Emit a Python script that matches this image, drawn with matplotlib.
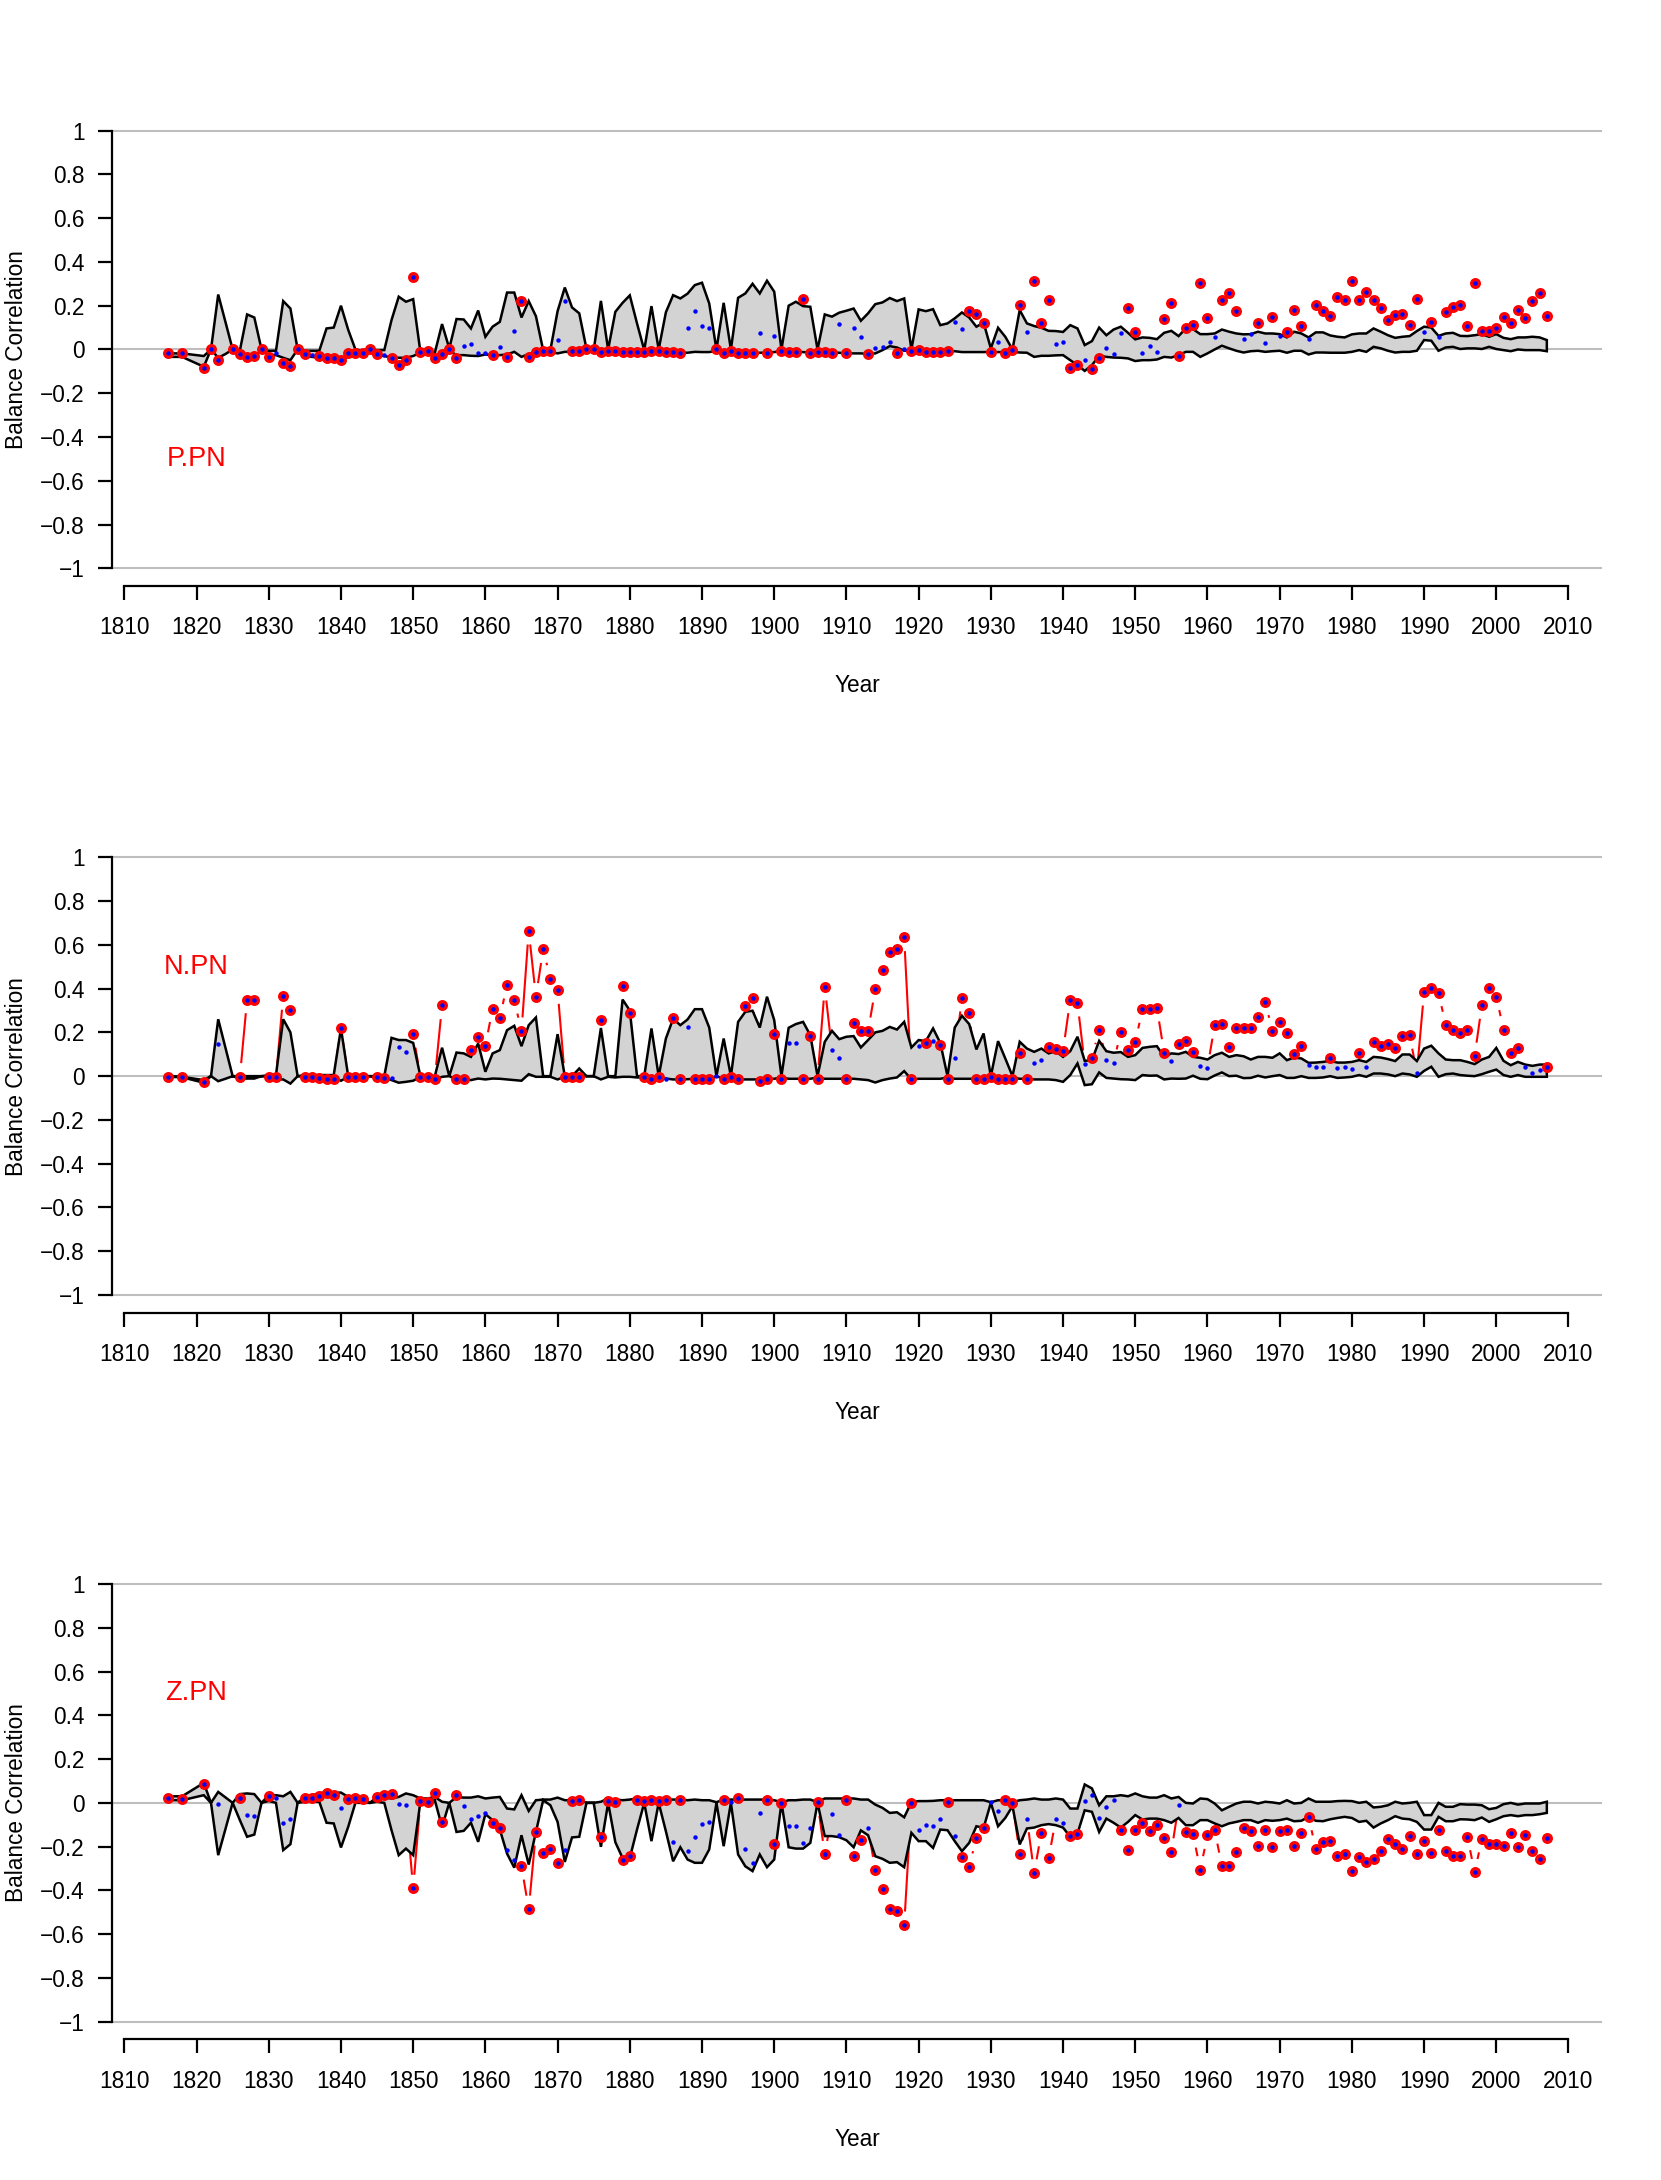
import numpy as np
import matplotlib
matplotlib.use("Agg")
import matplotlib.pyplot as plt
from matplotlib.collections import LineCollection

plt.rcParams["font.family"] = ["Liberation Sans", "DejaVu Sans"]

nan = np.nan
YEARS = np.arange(1816, 2008)

# ── P.PN ────────────────────────────────────────────────────────────────
P_UP = [
    -0.018, nan, -0.018, nan, nan, -0.03, 0, 0.251, 0.126, 0,
    -0.005, 0.16, 0.146, 0, -0.006, -0.006, 0.221, 0.187, 0, -0.006,
    -0.006, -0.006, 0.096, 0.1, 0.2, 0.09, 0, -0.006, 0, -0.003,
    -0.003, 0.134, 0.241, 0.218, 0.23, -0.011, -0.003, -0.015, 0.116, 0.005,
    0.139, 0.137, 0.096, 0.178, 0.058, 0.104, 0.126, 0.26, 0.26, 0.146,
    0.221, 0.152, -0.003, -0.003, 0.175, 0.283, 0.192, 0.165, 0.003, -0.003,
    0.222, 0, 0.172, 0.213, 0.247, 0.119, -0.003, 0.198, 0, 0.17,
    0.248, 0.233, 0.255, 0.294, 0.305, 0.21, 0, 0.213, 0, 0.236,
    0.256, 0.3, 0.256, 0.314, 0.264, 0, 0.2, 0.218, 0.198, 0.195,
    0, 0.16, 0.15, 0.168, 0.177, 0.187, 0.131, 0.165, 0.207, 0.215,
    0.235, 0.221, 0.233, 0, 0.183, 0.175, 0.184, 0.111, 0.119, 0.142,
    0.169, 0.146, 0.104, 0.122, 0.005, 0.099, 0.058, 0, 0.18, 0.119,
    0.107, 0.099, 0.085, 0.084, 0.08, 0.111, 0.096, 0.02, 0.038, 0.1,
    0.065, 0.091, 0.104, 0.076, 0.046, 0.055, 0.053, 0.047, 0.076, 0.085,
    0.061, 0.096, 0.093, 0.07, 0.07, 0.073, 0.091, 0.081, 0.073, 0.069,
    0.07, 0.081, 0.073, 0.073, 0.07, 0.055, 0.081, 0.073, 0.055, 0.078,
    0.078, 0.064, 0.058, 0.055, 0.069, 0.073, 0.073, 0.096, 0.081, 0.065,
    0.053, 0.058, 0.061, 0.084, 0.104, 0.1, 0.062, 0.073, 0.076, 0.062,
    0.061, 0.065, 0.07, 0.058, 0.07, 0.053, 0.047, 0.055, 0.055, 0.058,
    0.055, 0.043,
]
P_LO = [
    -0.034, nan, -0.034, nan, nan, -0.079, 0, -0.038, -0.021, 0,
    -0.026, -0.038, -0.038, 0, -0.026, -0.026, -0.038, -0.049, 0, -0.029,
    -0.034, -0.038, -0.044, -0.044, -0.044, -0.034, -0.026, -0.026, -0.006, -0.026,
    -0.03, -0.037, -0.038, -0.038, -0.03, -0.015, -0.015, -0.034, -0.026, -0.006,
    -0.026, -0.026, -0.029, -0.03, -0.023, -0.026, -0.026, -0.023, -0.011, -0.034,
    -0.021, -0.015, -0.008, -0.011, -0.018, -0.011, -0.011, -0.011, -0.003, -0.011,
    -0.012, -0.011, -0.014, -0.012, -0.012, -0.012, -0.008, -0.012, -0.012, -0.014,
    -0.014, -0.015, -0.015, -0.011, -0.012, -0.012, -0.006, -0.012, -0.008, -0.018,
    -0.015, -0.018, -0.015, -0.015, -0.012, -0.008, -0.012, -0.012, -0.012, -0.015,
    -0.011, -0.012, -0.015, -0.015, -0.018, -0.018, -0.018, -0.021, -0.018, -0.003,
    0.015, 0.009, -0.006, -0.006, -0.008, -0.012, -0.012, -0.012, -0.008, -0.008,
    -0.012, -0.012, -0.012, -0.012, -0.011, -0.012, -0.012, -0.011, -0.014, -0.015,
    -0.034, -0.029, -0.029, -0.027, -0.026, -0.049, -0.072, -0.098, -0.072, -0.029,
    -0.034, -0.037, -0.038, -0.041, -0.053, -0.049, -0.049, -0.046, -0.034, -0.037,
    -0.026, -0.011, -0.011, -0.034, -0.018, 0, 0.017, 0.005, -0.006, -0.014,
    -0.008, -0.006, -0.011, -0.008, -0.006, -0.015, -0.006, -0.006, -0.023, -0.014,
    -0.014, -0.015, -0.015, -0.015, -0.011, -0.003, -0.011, 0.012, 0.005, -0.006,
    -0.014, -0.011, -0.011, -0.006, 0.043, 0.04, -0.006, 0.009, 0.012, 0.002,
    0.005, 0.005, 0.002, 0.012, 0.002, -0.003, -0.008, 0, -0.003, -0.003,
    -0.003, -0.008,
]
P_VAL = [
    -0.018, nan, -0.018, nan, nan, -0.087, 0, -0.046, nan, 0,
    -0.021, -0.034, -0.03, 0, -0.034, -0.018, -0.061, -0.075, 0, -0.021,
    -0.026, -0.03, -0.041, -0.038, -0.049, -0.015, -0.018, -0.015, 0, -0.023,
    -0.026, -0.037, -0.072, -0.046, 0.332, -0.011, -0.006, -0.041, -0.021, 0,
    -0.037, 0.015, 0.027, -0.015, -0.014, -0.026, 0.009, -0.034, 0.085, 0.222,
    -0.034, -0.011, -0.008, -0.008, 0.043, 0.222, -0.008, -0.008, 0, 0,
    -0.011, -0.006, -0.006, -0.011, -0.011, -0.011, -0.011, -0.006, -0.006, -0.011,
    -0.011, -0.018, 0.099, 0.177, 0.107, 0.1, 0, -0.015, -0.006, -0.018,
    -0.015, -0.018, 0.076, -0.015, 0.061, -0.006, -0.012, -0.012, 0.23, -0.015,
    -0.011, -0.011, -0.015, 0.116, -0.018, 0.099, 0.058, -0.021, 0.005, 0.009,
    0.032, -0.015, 0.002, -0.006, -0.003, -0.012, -0.012, -0.012, -0.006, 0.125,
    0.094, 0.175, 0.161, 0.119, -0.011, 0.035, -0.015, -0.003, 0.203, 0.078,
    0.312, 0.122, 0.225, 0.027, 0.035, -0.084, -0.072, -0.046, -0.091, -0.038,
    0.005, -0.023, 0.073, 0.19, 0.081, -0.015, 0.015, -0.011, 0.139, 0.213,
    -0.029, 0.099, 0.114, 0.302, 0.142, 0.055, 0.228, 0.26, 0.175, 0.05,
    0.069, 0.119, 0.03, 0.146, 0.062, 0.081, 0.178, 0.107, 0.05, 0.203,
    0.174, 0.155, 0.238, 0.228, 0.312, 0.228, 0.264, 0.228, 0.19, 0.134,
    0.157, 0.164, 0.111, 0.232, 0.079, 0.126, 0.055, 0.169, 0.192, 0.204,
    0.108, 0.305, 0.085, 0.085, 0.096, 0.149, 0.119, 0.18, 0.142, 0.221,
    0.256, 0.154,
]
P_SIG = [
    1, 0, 1, 0, 0, 1, 1, 1, 0, 1,
    1, 1, 1, 1, 1, 0, 1, 1, 1, 1,
    0, 1, 1, 1, 1, 1, 1, 1, 1, 1,
    0, 1, 1, 1, 1, 1, 1, 1, 1, 1,
    1, 0, 0, 0, 0, 1, 0, 1, 0, 1,
    1, 1, 1, 1, 0, 0, 1, 1, 1, 1,
    1, 1, 1, 1, 1, 1, 1, 1, 1, 1,
    1, 1, 0, 0, 0, 0, 1, 1, 1, 1,
    1, 1, 0, 1, 0, 1, 1, 1, 1, 1,
    1, 1, 1, 0, 1, 0, 0, 1, 0, 0,
    0, 1, 0, 1, 1, 1, 1, 1, 1, 0,
    0, 1, 1, 1, 1, 0, 1, 1, 1, 0,
    1, 1, 1, 0, 0, 1, 1, 0, 1, 1,
    0, 0, 0, 1, 1, 0, 0, 0, 1, 1,
    1, 1, 1, 1, 1, 0, 1, 1, 1, 0,
    0, 1, 0, 1, 0, 1, 1, 1, 0, 1,
    1, 1, 1, 1, 1, 1, 1, 1, 1, 1,
    1, 1, 1, 1, 0, 1, 0, 1, 1, 1,
    1, 1, 1, 1, 1, 1, 1, 1, 1, 1,
    1, 1,
]

# ── N.PN ────────────────────────────────────────────────────────────────
N_UP = [
    0, nan, -0.003, nan, nan, -0.018, 0, 0.26, 0.13, 0,
    0, 0, 0, 0, 0.005, 0.005, 0.26, 0.2, 0, 0.005,
    0.005, 0.005, 0.005, 0.005, 0.218, 0, 0, 0, 0, 0,
    0, 0.175, 0.165, 0.165, 0.152, 0, 0, 0, 0.13, 0,
    0.108, 0.104, 0.088, 0.149, 0.02, 0.104, 0.119, 0.21, 0.23, 0.137,
    0.233, 0.268, 0, 0, 0.192, 0, 0, 0.035, 0, 0,
    0.22, 0, 0, 0.35, 0.3, 0, 0, 0.218, 0, 0.172,
    0.262, 0.233, 0.259, 0.306, 0.306, 0.222, 0, 0.172, 0, 0.248,
    0.294, 0.299, 0.222, 0.363, 0.256, 0, 0.221, 0.238, 0.248, 0.187,
    0, 0.157, 0.207, 0.169, 0.18, 0.183, 0.131, 0.165, 0.2, 0.207,
    0.225, 0.213, 0.248, 0.131, 0.165, 0.16, 0.218, 0.152, 0, 0.222,
    0.276, 0.238, 0.122, 0.195, 0, 0.16, 0.081, 0, 0.157, 0.126,
    0.111, 0.126, 0.104, 0.114, 0.088, 0.114, 0.18, 0.07, 0.073, 0.161,
    0.114, 0.107, 0.11, 0.088, 0.096, 0.129, 0.134, 0.137, 0.088, 0.104,
    0.101, 0.111, 0.088, 0.084, 0.076, 0.096, 0.107, 0.088, 0.096, 0.091,
    0.076, 0.088, 0.088, 0.084, 0.104, 0.073, 0.085, 0.081, 0.061, 0.062,
    0.065, 0.07, 0.062, 0.062, 0.065, 0.073, 0.065, 0.088, 0.085, 0.078,
    0.069, 0.099, 0.099, 0.069, 0.126, 0.139, 0.104, 0.076, 0.073, 0.073,
    0.065, 0.055, 0.076, 0.088, 0.129, 0.07, 0.05, 0.065, 0.053, 0.047,
    0.053, 0.053,
]
N_LO = [
    -0.003, nan, -0.005, nan, nan, -0.03, 0, -0.023, -0.012, 0,
    -0.011, -0.011, -0.011, 0, -0.003, -0.015, -0.015, -0.034, 0, -0.003,
    -0.006, -0.006, -0.008, -0.008, -0.021, -0.003, -0.003, -0.003, 0, -0.003,
    -0.008, -0.018, -0.03, -0.026, -0.021, -0.003, -0.003, -0.018, -0.003, 0,
    -0.015, -0.015, -0.018, -0.011, -0.015, -0.011, -0.012, -0.015, -0.018, -0.021,
    0.009, -0.003, -0.003, -0.003, -0.015, -0.003, -0.003, -0.003, 0, 0,
    -0.015, -0.003, -0.006, -0.003, -0.003, -0.006, -0.006, -0.015, -0.006, -0.011,
    -0.015, -0.015, -0.014, -0.012, -0.012, -0.012, 0, -0.012, -0.006, -0.015,
    -0.015, -0.015, -0.015, -0.012, -0.012, -0.006, -0.012, -0.012, -0.012, -0.012,
    -0.006, -0.012, -0.012, -0.012, -0.012, -0.012, -0.015, -0.018, -0.029, -0.018,
    -0.011, -0.006, 0.023, -0.015, -0.012, -0.012, -0.012, -0.012, -0.006, -0.012,
    -0.012, -0.012, -0.012, -0.012, -0.006, -0.012, -0.012, -0.006, -0.012, -0.012,
    -0.015, -0.015, -0.015, -0.018, -0.026, 0.005, 0.058, -0.041, -0.037, 0.017,
    -0.008, -0.011, -0.014, -0.015, -0.018, 0.005, 0.002, 0.003, -0.015, -0.011,
    -0.012, -0.011, 0.002, -0.012, -0.014, 0.003, 0.017, 0, 0.002, -0.009,
    -0.008, 0.002, -0.006, 0, 0.005, -0.008, -0.008, 0, -0.008, -0.008,
    -0.006, 0, -0.008, -0.006, -0.003, 0.005, -0.003, 0.012, 0.012, 0.008,
    0, 0.012, 0.008, -0.003, 0.024, 0.043, -0.003, 0.009, 0.012, 0.005,
    0.002, 0, 0.009, 0.02, 0.03, 0.005, -0.003, 0.005, -0.003, -0.003,
    -0.003, -0.003,
]
N_VAL = [
    -0.003, nan, -0.003, nan, nan, -0.025, nan, 0.146, nan, nan,
    -0.003, 0.35, 0.35, nan, -0.006, -0.006, 0.366, 0.302, nan, -0.003,
    -0.006, -0.008, -0.011, -0.011, 0.218, -0.003, -0.003, -0.003, nan, -0.003,
    -0.008, -0.008, 0.134, 0.111, 0.192, -0.003, -0.003, -0.011, 0.323, nan,
    -0.012, -0.012, 0.119, 0.177, 0.139, 0.309, 0.268, 0.416, 0.347, 0.206,
    0.664, 0.363, 0.579, 0.446, 0.393, -0.003, -0.003, -0.006, nan, nan,
    0.256, nan, nan, 0.41, 0.29, nan, -0.006, -0.011, -0.006, -0.015,
    0.267, -0.011, 0.225, -0.011, -0.011, -0.015, 0, -0.011, -0.006, -0.015,
    0.32, 0.355, -0.021, -0.011, 0.192, -0.011, 0.152, 0.152, -0.015, 0.183,
    -0.011, 0.408, 0.119, 0.081, -0.011, 0.241, 0.206, 0.206, 0.398, 0.487,
    0.568, 0.58, 0.634, -0.011, 0.139, 0.152, 0.16, 0.142, -0.011, 0.084,
    0.358, 0.289, -0.011, -0.011, -0.003, -0.011, -0.011, -0.011, 0.104, -0.011,
    0.061, 0.073, 0.131, 0.122, 0.116, 0.35, 0.335, 0.055, 0.085, 0.213,
    0.076, 0.061, 0.203, 0.119, 0.157, 0.305, 0.309, 0.312, 0.107, 0.069,
    0.146, 0.161, 0.111, 0.047, 0.038, 0.233, 0.238, 0.131, 0.222, 0.222,
    0.222, 0.271, 0.34, 0.206, 0.248, 0.195, 0.099, 0.139, 0.05, 0.043,
    0.043, 0.084, 0.038, 0.043, 0.032, 0.108, 0.043, 0.154, 0.139, 0.149,
    0.129, 0.183, 0.187, 0.015, 0.385, 0.405, 0.381, 0.233, 0.213, 0.198,
    0.21, 0.091, 0.324, 0.405, 0.363, 0.213, 0.107, 0.129, 0.043, 0.015,
    0.03, 0.043,
]
N_SIG = [
    1, 0, 1, 0, 0, 1, 0, 0, 0, 0,
    1, 1, 1, 0, 1, 1, 1, 1, 0, 1,
    1, 1, 1, 1, 1, 1, 1, 1, 0, 1,
    1, 0, 0, 0, 1, 1, 1, 1, 1, 0,
    1, 1, 1, 1, 1, 1, 1, 1, 1, 1,
    1, 1, 1, 1, 1, 1, 1, 1, 0, 0,
    1, 0, 0, 1, 1, 0, 1, 1, 1, 0,
    1, 1, 0, 1, 1, 1, 0, 1, 1, 1,
    1, 1, 1, 1, 1, 1, 0, 0, 1, 1,
    1, 1, 0, 0, 1, 1, 1, 1, 1, 1,
    1, 1, 1, 1, 0, 1, 0, 1, 1, 0,
    1, 1, 1, 1, 1, 1, 1, 1, 1, 1,
    0, 0, 1, 1, 1, 1, 1, 0, 1, 1,
    0, 0, 1, 1, 1, 1, 1, 1, 1, 0,
    1, 1, 1, 0, 0, 1, 1, 1, 1, 1,
    1, 1, 1, 1, 1, 1, 1, 1, 0, 0,
    0, 1, 0, 0, 0, 1, 0, 1, 1, 1,
    1, 1, 1, 0, 1, 1, 1, 1, 1, 1,
    1, 1, 1, 1, 1, 1, 1, 1, 0, 0,
    0, 1,
]

# ── Z.PN ────────────────────────────────────────────────────────────────
Z_UP = [
    0.03, nan, 0.03, nan, nan, 0.091, 0, 0.05, 0.025, 0,
    0.04, 0.043, 0.04, 0, 0.035, 0.035, 0.03, 0.05, 0, 0.027,
    0.035, 0.043, 0.05, 0.046, 0.047, 0.027, 0.027, 0.02, 0, 0.027,
    0.024, 0.02, 0.027, 0.043, 0.035, 0.02, 0.02, 0.027, 0.005, 0,
    0.027, 0.024, 0.024, 0.03, 0.02, 0.024, 0.027, -0.026, -0.03, 0.035,
    -0.037, 0.012, 0.015, 0.015, 0.024, 0.012, 0.012, 0.015, 0, 0,
    0.005, 0.02, 0.015, 0.012, 0.015, 0.02, 0.005, 0.015, 0.005, 0.015,
    0.015, 0.015, 0.012, 0.015, 0.012, 0.012, 0.003, 0.015, 0.015, 0.015,
    0.015, 0.015, 0.015, 0.015, 0.012, 0.003, 0.012, 0.012, 0.015, 0.015,
    0.003, 0.02, 0.02, 0.02, 0.02, 0.02, 0.015, 0.015, -0.008, -0.023,
    -0.046, -0.043, -0.066, 0.003, 0.008, 0.008, 0.009, 0.012, 0.012, 0.012,
    0.012, 0.012, 0.012, 0.012, 0.003, 0.012, 0.012, 0.003, 0.012, 0.015,
    0.02, 0.015, 0.015, 0.02, 0.015, -0.026, -0.026, 0.084, 0.066, -0.011,
    0.03, 0.03, 0.035, 0.03, 0.043, 0.03, 0.024, 0.024, 0.035, 0.02,
    0.027, 0, -0.003, 0.02, 0.017, -0.003, -0.034, -0.018, -0.003, 0.005,
    0.005, -0.003, 0.005, 0.002, -0.003, 0.012, -0.003, 0, 0.02, 0.005,
    0.005, 0.005, 0.008, 0.009, 0.008, 0, 0.005, -0.021, -0.018, -0.011,
    0.005, -0.003, 0, 0.005, -0.056, -0.056, 0, -0.018, -0.018, -0.006,
    -0.008, -0.008, -0.011, -0.029, -0.023, -0.006, 0, -0.008, -0.003, -0.003,
    -0.003, 0.005,
]
Z_LO = [
    0.012, nan, 0.012, nan, nan, 0.035, 0, -0.239, -0.12, 0,
    -0.079, -0.155, -0.145, 0, 0.009, 0, -0.216, -0.189, 0, 0.005,
    0.005, 0.005, -0.091, -0.094, -0.204, -0.11, 0, 0, 0, 0.005,
    0, -0.125, -0.239, -0.209, -0.239, 0.005, 0.005, 0.012, -0.11, 0,
    -0.133, -0.128, -0.091, -0.178, -0.052, -0.079, -0.122, -0.232, -0.296, -0.148,
    -0.282, -0.133, 0.012, -0.011, -0.087, -0.27, -0.158, -0.155, 0, 0,
    -0.201, 0, -0.18, -0.252, -0.252, -0.122, 0, -0.175, 0, -0.13,
    -0.267, -0.203, -0.259, -0.274, -0.274, -0.213, 0, -0.198, 0, -0.236,
    -0.29, -0.312, -0.236, -0.294, -0.259, 0, -0.203, -0.209, -0.209, -0.183,
    0, -0.152, -0.152, -0.157, -0.171, -0.203, -0.126, -0.148, -0.244, -0.256,
    -0.274, -0.271, -0.294, -0.137, -0.175, -0.175, -0.206, -0.122, -0.125, -0.175,
    -0.221, -0.183, -0.107, -0.114, 0, -0.107, -0.069, -0.015, -0.19, -0.117,
    -0.113, -0.102, -0.097, -0.102, -0.113, -0.155, -0.14, -0.034, -0.041, -0.133,
    -0.072, -0.091, -0.113, -0.087, -0.056, -0.076, -0.072, -0.072, -0.079, -0.091,
    -0.069, -0.102, -0.102, -0.079, -0.079, -0.094, -0.107, -0.094, -0.087, -0.079,
    -0.079, -0.091, -0.079, -0.082, -0.079, -0.072, -0.084, -0.082, -0.064, -0.082,
    -0.084, -0.075, -0.069, -0.064, -0.069, -0.087, -0.082, -0.113, -0.094, -0.079,
    -0.061, -0.072, -0.075, -0.087, -0.122, -0.122, -0.064, -0.084, -0.084, -0.075,
    -0.076, -0.079, -0.067, -0.087, -0.075, -0.061, -0.056, -0.061, -0.056, -0.056,
    -0.052, -0.046,
]
Z_VAL = [
    0.02, nan, 0.017, nan, nan, 0.088, nan, -0.003, nan, nan,
    0.023, -0.056, -0.059, nan, 0.032, 0.02, -0.094, -0.075, nan, 0.023,
    0.024, 0.032, 0.046, 0.038, -0.023, 0.017, 0.02, 0.017, nan, 0.027,
    0.035, 0.04, -0.006, -0.011, -0.391, 0.008, 0.005, 0.046, -0.087, nan,
    0.038, -0.014, -0.073, -0.059, -0.046, -0.091, -0.113, -0.216, -0.262, -0.289,
    -0.486, -0.133, -0.228, -0.213, -0.277, -0.216, 0.008, 0.012, nan, nan,
    -0.158, 0.008, 0.003, -0.262, -0.244, 0.012, 0.009, 0.012, 0.008, 0.012,
    -0.18, 0.011, -0.218, -0.157, -0.096, -0.088, nan, 0.011, 0.003, 0.023,
    -0.213, -0.274, -0.046, 0.011, -0.19, 0.0, -0.107, -0.107, -0.183, -0.114,
    0.003, -0.236, -0.05, -0.148, 0.015, -0.244, -0.168, -0.114, -0.309, -0.393,
    -0.484, -0.492, -0.559, 0.0, -0.125, -0.102, -0.107, -0.073, 0.005, -0.152,
    -0.248, -0.292, -0.16, -0.117, 0.003, -0.038, 0.012, 0.0, -0.232, -0.072,
    -0.32, -0.137, -0.254, -0.075, -0.09, -0.152, -0.143, 0.008, 0.035, -0.069,
    -0.018, 0.012, -0.125, -0.216, -0.125, -0.094, -0.128, -0.102, -0.16, -0.224,
    -0.011, -0.134, -0.143, -0.305, -0.149, -0.125, -0.289, -0.288, -0.224, -0.114,
    -0.129, -0.196, -0.125, -0.201, -0.128, -0.125, -0.196, -0.14, -0.064, -0.21,
    -0.181, -0.174, -0.242, -0.232, -0.312, -0.247, -0.27, -0.257, -0.221, -0.166,
    -0.186, -0.209, -0.151, -0.232, -0.175, -0.227, -0.122, -0.221, -0.242, -0.244,
    -0.155, -0.318, -0.165, -0.19, -0.189, -0.195, -0.136, -0.204, -0.149, -0.219,
    -0.256, -0.16,
]
Z_SIG = [
    1, 0, 1, 0, 0, 1, 0, 0, 0, 0,
    1, 0, 0, 0, 1, 0, 0, 0, 0, 1,
    1, 1, 1, 1, 0, 1, 1, 1, 0, 1,
    1, 1, 0, 0, 1, 1, 1, 1, 1, 0,
    1, 0, 0, 0, 0, 1, 1, 0, 0, 1,
    1, 1, 1, 1, 1, 0, 1, 1, 0, 0,
    1, 1, 1, 1, 1, 1, 1, 1, 1, 1,
    0, 1, 0, 0, 0, 0, 0, 1, 0, 1,
    0, 0, 0, 1, 1, 1, 0, 0, 0, 0,
    1, 1, 0, 0, 1, 1, 1, 0, 1, 1,
    1, 1, 1, 1, 0, 0, 0, 0, 1, 0,
    1, 1, 1, 1, 0, 0, 1, 1, 1, 0,
    1, 1, 1, 0, 0, 1, 1, 0, 0, 0,
    0, 0, 1, 1, 1, 1, 1, 1, 1, 1,
    0, 1, 1, 1, 1, 1, 1, 1, 1, 1,
    1, 1, 1, 1, 1, 1, 1, 1, 1, 1,
    1, 1, 1, 1, 1, 1, 1, 1, 1, 1,
    1, 1, 1, 1, 1, 1, 1, 1, 1, 1,
    1, 1, 1, 1, 1, 1, 1, 1, 1, 1,
    1, 1,
]

PANELS = [
    # name, label y, upper, lower, value, significant, connect values
    ("P.PN", -0.5, P_UP, P_LO, P_VAL, P_SIG, False),
    ("N.PN", 0.5, N_UP, N_LO, N_VAL, N_SIG, True),
    ("Z.PN", 0.5, Z_UP, Z_LO, Z_VAL, Z_SIG, True),
]

Y_TICKS = [1, 0.8, 0.6, 0.4, 0.2, 0, -0.2, -0.4, -0.6, -0.8, -1]
Y_TICK_LABELS = ["1", "0.8", "0.6", "0.4", "0.2", "0",
                 "\u22120.2", "\u22120.4", "\u22120.6", "\u22120.8", "\u22121"]
X_TICKS = list(range(1810, 2011, 10))

# figure geometry in pixels (R-like layout, 3 stacked panels)
W, H = 1661, 2180
LEFT, RIGHT = 112.5, 1602.0
TOP0, PANEL_H, STEP = 113.1, 472.7, 726.7
GAP_PX = 13.7          # gap left around points by R's type="b"
FS = 16.3


def gapped_segments(ax, xs, ys, gap):
    """Segments of an R type='b' line: shortened by `gap` pixels at each end."""
    pts = ax.transData.transform(np.column_stack([xs, ys]))
    inv = ax.transData.inverted()
    segs = []
    for i in range(len(xs) - 1):
        if np.isnan(ys[i]) or np.isnan(ys[i + 1]):
            continue
        p0, p1 = pts[i], pts[i + 1]
        d = np.hypot(*(p1 - p0))
        if d == 0:
            continue
        f = gap / d
        if f < 0.5:
            a = p0 + f * (p1 - p0)
            b = p1 - f * (p1 - p0)
            segs.append(inv.transform(np.array([a, b])))
    return segs


fig = plt.figure(figsize=(W / 100, H / 100), dpi=100)

for i, (name, label_y, up, lo, val, sig, connect) in enumerate(PANELS):
    bottom_px = TOP0 + PANEL_H + STEP * i
    ax = fig.add_axes([LEFT / W, 1 - bottom_px / H, (RIGHT - LEFT) / W, PANEL_H / H])
    ax.set_xlim(1808.36, 2014.64)
    ax.set_ylim(-1.08, 1.08)

    up = np.array(up, dtype=float)
    lo = np.array(lo, dtype=float)
    val = np.array(val, dtype=float)
    sig = np.array(sig, dtype=bool)

    # reference lines
    for h in (-1, 0, 1):
        ax.axhline(h, color="#bebebe", lw=1.5, zorder=1)

    # observed series, R type="b" (drawn first, the band hides it where it overlaps)
    if connect:
        segs = gapped_segments(ax, YEARS.astype(float), val, GAP_PX)
        ax.add_collection(LineCollection(segs, colors="red", linewidths=1.5, zorder=1.5))

    # null band
    ok = ~np.isnan(up)
    bx = YEARS[ok]
    ax.fill(np.r_[bx, bx[::-1]], np.r_[up[ok], lo[ok][::-1]],
            facecolor="#d3d3d3", edgecolor="black", lw=1.8, zorder=2)

    red = sig & ~np.isnan(val)
    ax.plot(YEARS[red], val[red], "o", color="red", ms=7.9, mew=0, zorder=4)
    ax.plot(YEARS, val, "o", color="blue", ms=3.2, mew=0, zorder=5)

    ax.text(1820, label_y, name, color="red", fontsize=19.5,
            ha="center", va="center")

    # axes decoration
    for side in ("top", "right"):
        ax.spines[side].set_visible(False)
    ax.spines["left"].set_bounds(-1, 1)
    ax.spines["bottom"].set_bounds(1810, 2010)
    for side in ("left", "bottom"):
        ax.spines[side].set_linewidth(1.6)
    ax.set_yticks(Y_TICKS)
    ax.set_yticklabels(Y_TICK_LABELS)
    ax.set_xticks(X_TICKS)
    ax.set_xticklabels([str(x) for x in X_TICKS])
    ax.tick_params(axis="both", direction="out", length=9.9, width=1.6,
                   labelsize=FS)
    ax.tick_params(axis="y", pad=10)
    ax.tick_params(axis="x", pad=12)

    ax.text(0.5, -100 / PANEL_H, "Year", transform=ax.transAxes,
            ha="center", va="center", fontsize=FS)
    ax.text(-95.5 / (RIGHT - LEFT), 0.5, "Balance Correlation",
            transform=ax.transAxes, rotation=90,
            ha="center", va="center", fontsize=FS)

fig.savefig("out.png", dpi=100)
